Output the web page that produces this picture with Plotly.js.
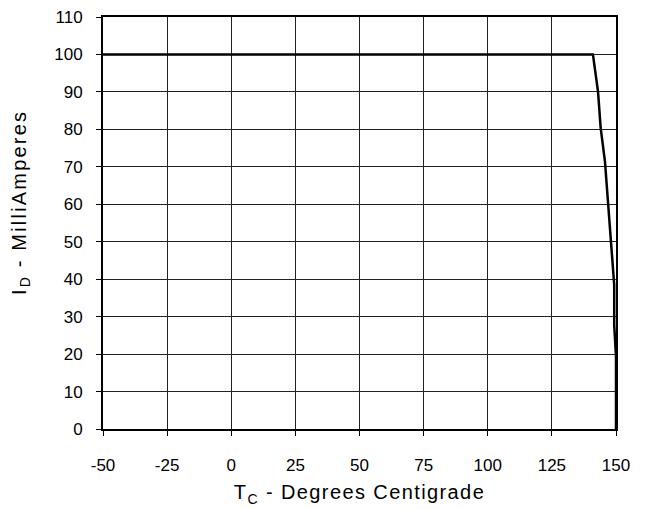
<!DOCTYPE html>
<html>
<head>
<meta charset="utf-8">
<script src="https://cdn.plot.ly/plotly-3.0.1.min.js"></script>
<style>
html,body{margin:0;padding:0;background:#fff}
#chart{width:651px;height:509px}
#chart .xtitle{letter-spacing:1.4px}
#chart .annotation-text{letter-spacing:2.2px}
</style>
</head>
<body>
<div id="chart"></div>
<script>
const temperatureC = [-50, 141, 143, 144, 145.7, 147.4, 149.3, 149.3, 150, 150];
const currentMA   = [100, 100, 90, 80.5, 71.4, 55.8, 38.5, 27.8, 19.3, 0];
const xTicks = [-50, -25, 0, 25, 50, 75, 100, 125, 150];
const yTicks = [0, 10, 20, 30, 40, 50, 60, 70, 80, 90, 100, 110];
const xTitle = 'T<sub>C</sub> - Degrees Centigrade';
const yTitle = 'I<sub>D</sub> - MilliAmperes';

const trace = {
  x: temperatureC, y: currentMA, type: 'scatter', mode: 'lines',
  line: {color: '#000', width: 2.5}, hoverinfo: 'skip'
};
const font = {family: 'Liberation Sans, Arial, sans-serif', color: '#000'};
const layout = {
  width: 651, height: 509,
  margin: {l: 103, r: 35, t: 17, b: 80},
  paper_bgcolor: '#fff', plot_bgcolor: '#fff',
  showlegend: false,
  font: Object.assign({size: 17}, font),
  xaxis: {
    range: [-50, 150], tickvals: xTicks, ticktext: xTicks.map(String),
    showgrid: true, gridcolor: '#222', gridwidth: 1,
    showline: true, linecolor: '#000', linewidth: 2, mirror: true,
    ticks: 'outside', ticklen: 5, tickcolor: '#000', tickwidth: 1,
    ticklabelstandoff: 15,
    zeroline: false, tickfont: Object.assign({size: 17}, font),
    title: {text: xTitle, font: Object.assign({size: 20}, font), standoff: 11}
  },
  yaxis: {
    range: [0, 110], tickvals: yTicks, ticktext: yTicks.map(String),
    showgrid: true, gridcolor: '#222', gridwidth: 1,
    showline: true, linecolor: '#000', linewidth: 2, mirror: true,
    ticks: 'outside', ticklen: 5, tickcolor: '#000', tickwidth: 1,
    ticklabelstandoff: 10,
    zeroline: false, tickfont: Object.assign({size: 17}, font)
  },
  annotations: [{
    text: yTitle, textangle: -90, showarrow: false,
    xref: 'paper', yref: 'paper', x: -83 / 513, y: 0.55,
    xanchor: 'center', yanchor: 'middle',
    font: Object.assign({size: 20}, font)
  }]
};
Plotly.newPlot('chart', [trace], layout, {staticPlot: true, displayModeBar: false});
</script>
</body>
</html>
